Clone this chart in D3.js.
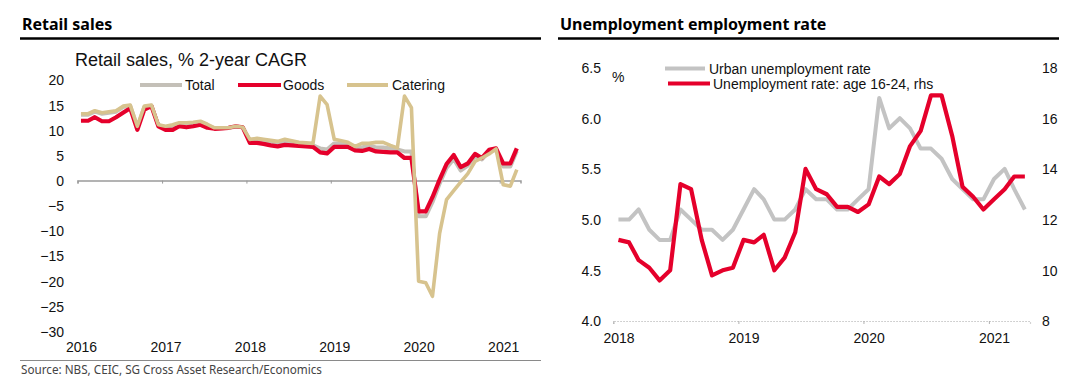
<!DOCTYPE html>
<html>
<head>
<meta charset="utf-8">
<script src="https://cdn.jsdelivr.net/npm/d3@7"></script>
<style>
  html, body { margin: 0; padding: 0; background: #fff; }
  svg { display: block; }
  text { font-family: "Liberation Sans", Arial, sans-serif; }
</style>
</head>
<body>
<svg id="chart" width="1084" height="388"></svg>
<script>
// ---------------- DATA ----------------
// Retail sales, % 2-year CAGR, monthly Jan 2016 - Mar 2021
const retailStart = [2016, 0];
const retailTotal = [
  13.1, 13.1, 13.7, 13.3, 13.5, 13.7, 14.6, 14.9, 10.6, 14.6, 14.9, 11.0,
  10.6, 10.9, 11.3, 11.3, 11.4, 11.6, 11.0, 10.4, 10.4, 10.5, 10.7, 10.6,
  7.9, 8.0, 7.8, 7.6, 7.4, 7.7, 7.5, 7.3, 7.2, 7.0, 6.4, 6.2,
  7.4, 7.4, 7.3, 6.6, 6.6, 7.0, 6.6, 6.6, 6.4, 6.2, 5.8, 5.8,
  -7.1, -7.1, -4.3, -0.6, 2.5, 4.3, 2.0, 3.0, 4.8, 4.2, 5.8, 6.1,
  2.8, 2.8, 5.9
];
const retailGoods = [
  11.9, 11.9, 12.6, 11.8, 11.8, 12.6, 13.5, 14.4, 10.1, 14.1, 14.8, 10.8,
  10.1, 10.1, 10.8, 10.6, 10.8, 11.1, 10.5, 10.3, 10.4, 10.5, 10.8, 10.6,
  7.5, 7.5, 7.3, 7.0, 6.8, 7.1, 7.0, 6.9, 6.8, 6.7, 5.6, 5.4,
  6.7, 6.7, 6.7, 6.0, 5.9, 6.3, 5.8, 5.7, 5.6, 5.6, 4.5, 4.5,
  -6.1, -6.1, -3.3, 0.2, 3.3, 5.1, 2.7, 3.4, 5.3, 4.5, 6.1, 6.4,
  3.4, 3.4, 6.4
];
const retailCatering = [
  13.3, 13.3, 13.9, 13.5, 13.7, 13.9, 14.8, 15.0, 10.8, 14.8, 15.0, 11.1,
  10.8, 11.1, 11.5, 11.5, 11.6, 11.8, 11.2, 10.5, 10.5, 10.5, 10.8, 10.6,
  8.2, 8.4, 8.2, 8.0, 7.8, 8.2, 7.9, 7.6, 7.5, 7.4, 16.8, 15.1,
  8.2, 7.9, 7.6, 6.8, 7.4, 7.4, 7.6, 7.6, 7.0, 6.5, 16.8, 14.5,
  -20.0, -20.3, -23.0, -10.5, -3.8, -2.0, -0.3, 1.4, 3.8, 4.5, 5.3, 6.3,
  -0.8, -1.1, 2.2
];
const retailSeriesNames = ["Total", "Goods", "Catering"];
const retailYTicks = [20, 15, 10, 5, 0, -5, -10, -15, -20, -25, -30];
const retailYearTicks = [2016, 2017, 2018, 2019, 2020, 2021];

// Unemployment, monthly Jan 2018 - Apr 2021
const unempStart = [2018, 0];
const urbanUnemp = [
  5.0, 5.0, 5.1, 4.9, 4.8, 4.8, 5.1, 5.0, 4.9, 4.9, 4.8, 4.9,
  5.1, 5.3, 5.2, 5.0, 5.0, 5.1, 5.3, 5.2, 5.2, 5.1, 5.1, 5.2,
  5.3, 6.2, 5.9, 6.0, 5.9, 5.7, 5.7, 5.6, 5.4, 5.3, 5.2, 5.2,
  5.4, 5.5, 5.3, 5.1
];
const youthUnemp = [
  11.2, 11.1, 10.4, 10.1, 9.6, 10.0, 13.4, 13.2, 11.2, 9.8, 10.0, 10.1,
  11.2, 11.1, 11.4, 10.0, 10.5, 11.5, 14.0, 13.2, 13.0, 12.5, 12.5, 12.3,
  12.6, 13.7, 13.4, 13.8, 14.9, 15.5, 16.9, 16.9, 15.3, 13.3, 12.9, 12.4,
  12.8, 13.2, 13.7, 13.7
];
const unempSeriesNames = ["Urban unemployment rate", "Unemployment rate: age 16-24, rhs"];
const unempLeftTicks = [4.0, 4.5, 5.0, 5.5, 6.0, 6.5];
const unempRightTicks = [8, 10, 12, 14, 16, 18];
const unempYearTicks = [2018, 2019, 2020, 2021];

// ---------------- DRAW ----------------
const svg = d3.select("#chart");
const RED = "#e5002b", GREY = "#c3c3c3", TAN = "#d7c38e", TOTAL = "#c4c0b8";
const monthsFrom = (start, n) => d3.range(n).map(i => new Date(start[0], start[1] + i, 16));

// Headers
function header(x1, x2, title) {
  svg.append("text").attr("x", x1 + 2).attr("y", 29.5)
    .style("font-family", "'Noto Sans', sans-serif").style("font-weight", "700")
    .style("font-size", "16px").attr("fill", "#000").text(title);
  svg.append("line").attr("x1", x1).attr("x2", x2).attr("y1", 38.5).attr("y2", 38.5)
    .attr("stroke", "#000").attr("stroke-width", 2.5);
}
header(20, 541, "Retail sales");
header(558, 1059, "Unemployment employment rate");

// ---------- Left chart ----------
{
  const dates = monthsFrom(retailStart, retailGoods.length);
  const x = d3.scaleTime().domain([new Date(2016, 0, 1), new Date(2021, 3, 1)]).range([77.5, 520.5]);
  const y = d3.scaleLinear().domain([-30, 20]).range([331.5, 80]);
  const g = svg.append("g");

  g.append("text").attr("x", 75).attr("y", 66).style("font-size", "18px").attr("fill", "#111")
    .text("Retail sales, % 2-year CAGR");

  // y labels
  const ya = g.append("g").attr("transform", "translate(64,0)")
    .call(d3.axisLeft(y).tickValues(retailYTicks).tickSize(0).tickPadding(0).tickFormat(d3.format("d")));
  ya.select(".domain").remove();
  ya.selectAll("text").style("font-size", "14px").style("font-family", "'Liberation Sans', Arial, sans-serif").attr("fill", "#111").attr("dy", "0.35em");

  // zero line axis with ticks
  const xa = g.append("g").attr("transform", `translate(0,${y(0)})`)
    .call(d3.axisBottom(x).tickValues(retailYearTicks.map(v => new Date(v, 0, 1))).tickSize(3).tickFormat(""));
  xa.select(".domain").attr("stroke", "#9a9a9a").attr("stroke-width", 1.5);
  xa.selectAll(".tick line").attr("stroke", "#9a9a9a");

  // year labels at bottom
  const xl = g.append("g").attr("transform", "translate(0,342)")
    .call(d3.axisBottom(x).tickValues(retailYearTicks.map(v => new Date(v, 0, 1))).tickSize(0).tickPadding(0).tickFormat(d3.timeFormat("%Y")));
  xl.select(".domain").remove();
  xl.selectAll("text").style("font-size", "14px").style("font-family", "'Liberation Sans', Arial, sans-serif").attr("fill", "#111").attr("dx", 3.5);

  const line = d3.line().x((d, i) => x(dates[i])).y(d => y(d));
  const series = [
    { v: retailTotal, c: TOTAL, w: 4 },
    { v: retailGoods, c: RED, w: 4.2 },
    { v: retailCatering, c: TAN, w: 3.6 }
  ];
  series.forEach(s => g.append("path").datum(s.v).attr("d", line).attr("fill", "none")
    .attr("stroke", s.c).attr("stroke-width", s.w).attr("stroke-linejoin", "round"));

  // legend
  const leg = [
    { name: retailSeriesNames[0], c: TOTAL, x1: 140, x2: 182, tx: 185 },
    { name: retailSeriesNames[1], c: RED, x1: 238, x2: 281, tx: 283 },
    { name: retailSeriesNames[2], c: TAN, x1: 347, x2: 388, tx: 392 }
  ];
  leg.forEach(l => {
    g.append("line").attr("x1", l.x1).attr("x2", l.x2).attr("y1", 85).attr("y2", 85)
      .attr("stroke", l.c).attr("stroke-width", 4);
    g.append("text").attr("x", l.tx).attr("y", 90).style("font-size", "14px").attr("fill", "#111").text(l.name);
  });

  // bottom rule + source
  svg.append("line").attr("x1", 20).attr("x2", 541).attr("y1", 360.5).attr("y2", 360.5)
    .attr("stroke", "#8a8a8a").attr("stroke-width", 1);
  svg.append("text").attr("x", 21).attr("y", 374)
    .style("font-family", "'Noto Sans', sans-serif").style("font-size", "11.7px").attr("fill", "#444")
    .text("Source: NBS, CEIC, SG Cross Asset Research/Economics");
}

// ---------- Right chart ----------
{
  const dates = monthsFrom(unempStart, urbanUnemp.length);
  const x = d3.scaleTime().domain([new Date(2018, 0, 1), new Date(2021, 4, 1)]).range([613.3, 1030]);
  const yL = d3.scaleLinear().domain([4, 6.5]).range([321, 67.5]);
  const yR = d3.scaleLinear().domain([8, 18]).range([321, 67.5]);
  const g = svg.append("g");

  const la = g.append("g").attr("transform", "translate(601,0)")
    .call(d3.axisLeft(yL).tickValues(unempLeftTicks).tickSize(0).tickPadding(0).tickFormat(d3.format(".1f")));
  la.select(".domain").remove();
  la.selectAll("text").style("font-size", "14px").style("font-family", "'Liberation Sans', Arial, sans-serif").attr("fill", "#111").attr("dy", "0.35em");

  const ra = g.append("g").attr("transform", "translate(1042,0)")
    .call(d3.axisRight(yR).tickValues(unempRightTicks).tickSize(0).tickPadding(0).tickFormat(d3.format("d")));
  ra.select(".domain").remove();
  ra.selectAll("text").style("font-size", "14px").style("font-family", "'Liberation Sans', Arial, sans-serif").attr("fill", "#111").attr("dy", "0.35em");

  g.append("text").attr("x", 612).attr("y", 82).style("font-size", "14px").attr("fill", "#111").text("%");

  const xa = g.append("g").attr("transform", "translate(0,321)")
    .call(d3.axisBottom(x).tickValues(unempYearTicks.map(v => new Date(v, 0, 1))).tickSize(3).tickPadding(9).tickFormat(d3.timeFormat("%Y")));
  xa.select(".domain").attr("stroke", "#c4c4c4").attr("stroke-width", 1.2).attr("stroke-dasharray", "1.5,1.5");
  xa.selectAll(".tick line").attr("stroke", "#b0b0b0");
  xa.selectAll("text").style("font-size", "14px").style("font-family", "'Liberation Sans', Arial, sans-serif").attr("fill", "#111").attr("dx", 5.2);

  g.append("path").datum(urbanUnemp)
    .attr("d", d3.line().x((d, i) => x(dates[i])).y(d => yL(d)))
    .attr("fill", "none").attr("stroke", GREY).attr("stroke-width", 4).attr("stroke-linejoin", "round");
  g.append("path").datum(youthUnemp)
    .attr("d", d3.line().x((d, i) => x(dates[i])).y(d => yR(d)))
    .attr("fill", "none").attr("stroke", RED).attr("stroke-width", 4.2).attr("stroke-linejoin", "round");

  g.append("line").attr("x1", 665).attr("x2", 705).attr("y1", 68.5).attr("y2", 68.5).attr("stroke", GREY).attr("stroke-width", 4);
  g.append("text").attr("x", 709).attr("y", 73.5).style("font-size", "14px").attr("fill", "#111").text(unempSeriesNames[0]);
  g.append("line").attr("x1", 668).attr("x2", 710).attr("y1", 83.5).attr("y2", 83.5).attr("stroke", RED).attr("stroke-width", 4);
  g.append("text").attr("x", 713).attr("y", 88.5).style("font-size", "14px").attr("fill", "#111").text(unempSeriesNames[1]);
}
</script>
</body>
</html>
